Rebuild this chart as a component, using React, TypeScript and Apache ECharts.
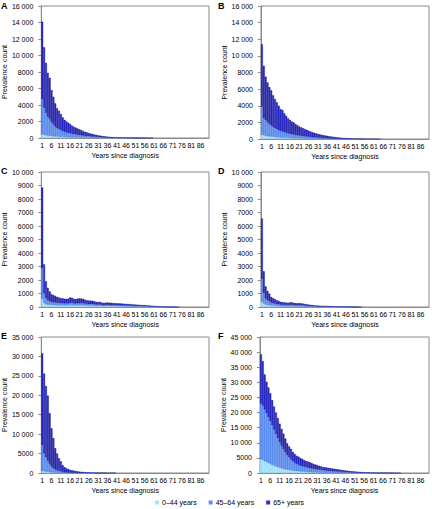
import React, { useEffect, useRef } from "react";
import * as echarts from "echarts";

const YEARS = [
  1, 2, 3, 4, 5, 6, 7, 8, 9, 10, 11, 12, 13, 14, 15, 16, 17, 18, 19, 20,
  21, 22, 23, 24, 25, 26, 27, 28, 29, 30, 31, 32, 33, 34, 35, 36, 37, 38, 39, 40,
  41, 42, 43, 44, 45, 46, 47, 48, 49, 50, 51, 52, 53, 54, 55, 56, 57, 58, 59, 60,
  61, 62, 63, 64, 65, 66, 67, 68, 69, 70, 71, 72, 73, 74, 75, 76, 77, 78, 79, 80,
  81, 82, 83, 84, 85, 86, 87, 88, 89, 90,
];

const SERIES_NAMES = ["0–44 years", "45–64 years", "65+ years"];
const PANEL_LETTERS = ["A", "B", "C", "D", "E", "F"];
const Y_MAX = [16000, 16000, 10000, 10000, 35000, 45000];
const Y_STEP = [2000, 2000, 1000, 1000, 5000, 5000];

// Panel A
const A_0_44 = [450, 380, 330, 290, 260, 220, 190, 170, 150, 140, 130, 120, 110, 100, 95, 90, 85, 80, 75, 70, 65, 60, 55, 50, 45, 42, 38, 34, 30, 27, 24, 21, 18, 16, 14, 12, 10, 9, 8, 7, 6, 5, 4, 3, 3, 2, 2, 2, 1, 1];
const A_45_64 = [4250, 3300, 2700, 2300, 2050, 1700, 1450, 1200, 1050, 950, 830, 720, 630, 570, 520, 480, 420, 380, 350, 320, 290, 260, 230, 205, 185, 165, 148, 132, 116, 105, 92, 80, 70, 62, 54, 46, 40, 34, 29, 25, 22, 19, 16, 13, 11, 9, 8, 6, 5, 4, 3, 3, 2, 2, 1, 1];
const A_65 = [9400, 7320, 6070, 5310, 4990, 3880, 3360, 2830, 2400, 2210, 1940, 1660, 1460, 1330, 1235, 1130, 995, 890, 825, 760, 695, 630, 565, 505, 450, 393, 354, 314, 274, 248, 214, 189, 162, 142, 122, 102, 90, 77, 63, 56, 48, 41, 35, 30, 26, 22, 18, 15, 13, 10, 8, 6, 5, 4, 3, 2, 2, 1, 1, 1];

// Panel B
const B_0_44 = [500, 420, 370, 330, 300, 270, 240, 215, 195, 180, 165, 150, 140, 130, 120, 110, 100, 92, 85, 78, 70, 64, 58, 52, 47, 43, 39, 35, 31, 28, 25, 22, 19, 17, 15, 13, 11, 10, 9, 8, 7, 6, 5, 4, 3, 3, 2, 2, 1, 1];
const B_45_64 = [3400, 2100, 1900, 1700, 1500, 1350, 1200, 1080, 980, 880, 800, 760, 690, 620, 560, 510, 470, 440, 400, 370, 340, 315, 290, 265, 245, 225, 205, 185, 165, 150, 138, 125, 112, 100, 88, 77, 67, 58, 50, 44, 38, 33, 28, 23, 19, 16, 13, 10, 8, 6, 5, 4, 3, 2, 2, 1];
const B_65 = [7500, 6280, 5230, 4770, 4450, 4230, 3810, 3505, 3225, 2940, 2635, 2590, 2270, 2050, 1820, 1680, 1530, 1468, 1315, 1202, 1090, 1021, 952, 883, 808, 732, 656, 600, 554, 502, 457, 413, 369, 343, 317, 290, 262, 232, 211, 188, 165, 146, 127, 113, 103, 91, 80, 68, 61, 53, 45, 38, 32, 26, 20, 16, 12, 9, 7, 5, 4, 3, 2, 1];

// Panel C
const C_0_44 = [600, 300, 200, 170, 150, 140, 135, 130, 125, 120, 118, 116, 114, 112, 115, 130, 125, 115, 112, 118, 122, 120, 116, 106, 100, 96, 94, 92, 85, 78, 74, 78, 66, 62, 66, 68, 66, 64, 62, 60, 58, 56, 54, 52, 50, 48, 46, 44, 42, 40, 38, 36, 34, 32, 30, 28, 26, 24, 22, 20, 18, 16, 14, 12, 10, 8, 6, 5, 3, 2, 1, 1];
const C_45_64 = [2300, 700, 450, 330, 270, 230, 210, 200, 185, 175, 165, 160, 155, 150, 155, 180, 170, 150, 145, 155, 160, 155, 150, 135, 125, 120, 118, 115, 105, 95, 90, 95, 80, 75, 80, 83, 80, 78, 75, 73, 70, 68, 65, 63, 60, 58, 55, 53, 50, 48, 45, 43, 40, 38, 35, 33, 30, 28, 25, 23, 20, 18, 15, 13, 10, 8, 6, 5, 3, 2, 1, 1];
const C_65 = [5950, 2160, 1250, 920, 730, 580, 535, 490, 440, 405, 377, 364, 341, 338, 350, 410, 385, 335, 323, 347, 358, 345, 334, 299, 275, 264, 258, 253, 230, 207, 196, 207, 174, 163, 174, 179, 174, 168, 163, 157, 152, 146, 141, 135, 130, 124, 119, 113, 108, 102, 97, 91, 86, 80, 75, 69, 64, 58, 53, 47, 42, 36, 31, 25, 20, 16, 13, 8, 6, 4, 3, 1, 2, 1];

// Panel D
const D_0_44 = [400, 250, 170, 140, 120, 95, 85, 75, 66, 60, 52, 50, 47, 46, 44, 48, 50, 44, 42, 40, 42, 39, 36, 32, 29, 26, 23, 20, 17, 16, 14, 13, 12, 11, 10, 9, 8, 7, 6, 6, 5, 4, 4, 3, 3, 2, 2, 1, 1];
const D_45_64 = [1700, 800, 470, 360, 300, 225, 200, 175, 150, 135, 115, 108, 102, 99, 93, 102, 105, 93, 87, 84, 87, 81, 75, 66, 60, 54, 48, 42, 36, 33, 30, 28, 27, 25, 24, 21, 19, 18, 16, 15, 13, 12, 10, 9, 7, 6, 5, 4, 3, 2, 1, 1];
const D_65 = [4450, 1590, 890, 690, 570, 420, 375, 330, 284, 255, 213, 202, 191, 185, 173, 190, 195, 173, 161, 156, 161, 150, 139, 122, 111, 100, 89, 78, 67, 61, 56, 54, 51, 49, 46, 40, 38, 35, 33, 29, 27, 24, 21, 18, 15, 12, 9, 7, 5, 4, 3, 2, 1, 1];

// Panel E
const E_0_44 = [500, 420, 360, 300, 230, 170, 130, 95, 75, 55, 45, 30, 22, 18, 15, 12, 10, 9, 8, 7, 6, 5, 4, 3, 3, 2, 2, 1, 1, 1];
const E_45_64 = [6700, 4600, 3700, 2900, 2100, 1500, 1100, 800, 600, 450, 350, 240, 180, 145, 120, 96, 84, 72, 60, 50, 42, 36, 30, 24, 20, 17, 13, 11, 8, 6, 5, 4, 2, 2, 1];
const E_65 = [23600, 20580, 18340, 16700, 13070, 9830, 7770, 5505, 4325, 3295, 2605, 1730, 1298, 1037, 865, 692, 606, 519, 432, 363, 302, 259, 216, 173, 147, 121, 95, 78, 61, 43, 35, 26, 18, 13, 9, 7, 5, 3, 2, 1];

// Panel F
const F_0_44 = [4500, 4300, 3900, 3600, 3300, 3000, 2700, 2400, 2150, 1900, 1700, 1500, 1350, 1200, 1050, 950, 850, 760, 680, 610, 550, 490, 440, 400, 360, 320, 290, 260, 235, 210, 190, 170, 150, 135, 120, 105, 95, 85, 75, 65, 58, 50, 44, 38, 33, 28, 24, 20, 17, 14, 12, 10, 8, 6, 5, 4, 3, 2, 2, 1];
const F_45_64 = [18500, 18000, 17100, 16200, 15200, 14200, 13100, 11900, 10750, 9600, 8500, 7500, 6550, 5700, 4950, 4250, 3650, 3140, 2720, 2390, 2150, 1960, 1810, 1650, 1540, 1430, 1310, 1220, 1125, 1040, 960, 890, 830, 765, 710, 655, 605, 555, 515, 475, 432, 395, 361, 327, 297, 267, 241, 215, 193, 171, 153, 135, 117, 104, 90, 76, 65, 55, 45, 37, 30, 24, 19, 15, 11, 8, 6, 4, 3, 2, 1];
const F_65 = [16300, 14700, 11600, 10400, 9800, 9200, 8300, 7700, 7100, 6700, 6100, 5600, 5100, 4500, 3800, 3600, 3500, 3100, 2900, 2700, 2700, 2550, 2450, 2250, 2100, 2050, 2000, 1820, 1640, 1550, 1450, 1340, 1220, 1100, 1070, 1040, 1000, 960, 910, 860, 810, 755, 695, 635, 570, 525, 475, 435, 390, 355, 315, 285, 255, 230, 205, 180, 162, 143, 123, 107, 90, 76, 66, 55, 44, 37, 29, 21, 15, 10, 7, 5, 3, 2, 1];

const PANEL_DATA = [
  [A_0_44, A_45_64, A_65],
  [B_0_44, B_45_64, B_65],
  [C_0_44, C_45_64, C_65],
  [D_0_44, D_45_64, D_65],
  [E_0_44, E_45_64, E_65],
  [F_0_44, F_45_64, F_65],
];

// Layout (pixels)
const GRIDS = [
  { left: 41, top: 6, width: 168, height: 132 },
  { left: 261, top: 6, width: 168, height: 133 },
  { left: 40, top: 172, width: 169, height: 135 },
  { left: 261, top: 172, width: 168, height: 135 },
  { left: 40, top: 337, width: 169, height: 136 },
  { left: 260, top: 337, width: 169, height: 136 },
];
const LETTER_POS = [
  { left: 1, top: 1 },
  { left: 218, top: 1 },
  { left: 1, top: 166 },
  { left: 218, top: 166 },
  { left: 1, top: 331 },
  { left: 218, top: 331 },
];

const FONT = 'Arial, "Liberation Sans", sans-serif';
const STYLES = [
  { color: "#a9e4f8", borderColor: "#8fd3f0", borderWidth: 0.3 },
  { color: "#5f90f2", borderColor: "#3d6ce0", borderWidth: 0.3 },
  { color: "#2e2ed0", borderColor: "#00007a", borderWidth: 0.35 },
];

function fmtY(v: number): string {
  if (v >= 10000) {
    const th = Math.floor(v / 1000);
    const rest = String(v % 1000).padStart(3, "0");
    return th + " " + rest;
  }
  return String(v);
}

export default function App() {
  const ref = useRef<HTMLDivElement>(null);
  useEffect(() => {
    if (!ref.current) return;
    const chart = echarts.init(ref.current, undefined, { renderer: "svg" });
    const grid = GRIDS.map((g) => ({
      ...g,
      show: true,
      borderColor: "#8a8a8a",
      borderWidth: 1,
      containLabel: false,
    }));
    const xAxis = GRIDS.map((_, i) => ({
      type: "category",
      gridIndex: i,
      data: YEARS.map(String),
      name: "Years since diagnosis",
      nameLocation: "middle",
      nameGap: 14,
      nameTextStyle: { fontSize: 7, fontFamily: FONT, color: "#000" },
      axisLine: { show: true, lineStyle: { color: "#8a8a8a", width: 1 } },
      axisTick: { show: false },
      axisLabel: {
        interval: 4,
        fontSize: 7,
        fontFamily: FONT,
        color: "#000",
        margin: 4,
      },
      splitLine: { show: false },
    }));
    const yAxis = GRIDS.map((_, i) => ({
      type: "value",
      gridIndex: i,
      min: 0,
      max: Y_MAX[i],
      interval: Y_STEP[i],
      name: "Prevalence count",
      nameLocation: "middle",
      nameGap: 31,
      nameRotate: 90,
      nameTextStyle: { fontSize: 7, fontFamily: FONT, color: "#000" },
      axisLine: { show: true, lineStyle: { color: "#8a8a8a", width: 1 } },
      axisTick: { show: true, length: 3, lineStyle: { color: "#8a8a8a" } },
      axisLabel: {
        fontSize: 7,
        fontFamily: FONT,
        color: "#000",
        margin: 8,
        formatter: fmtY,
      },
      splitLine: { show: false },
    }));
    const series: any[] = [];
    PANEL_DATA.forEach((panel, i) => {
      panel.forEach((arr, k) => {
        series.push({
          type: "bar",
          name: SERIES_NAMES[k],
          xAxisIndex: i,
          yAxisIndex: i,
          stack: "s" + i,
          data: arr,
          barCategoryGap: "0%",
          itemStyle: STYLES[k],
          emphasis: { disabled: true },
        });
      });
    });
    const title = PANEL_LETTERS.map((t, i) => ({
      text: t,
      left: LETTER_POS[i].left,
      top: LETTER_POS[i].top,
      padding: 0,
      textStyle: { fontSize: 9, fontWeight: "bold", fontFamily: FONT, color: "#000" },
    }));
    chart.setOption({
      animation: false,
      backgroundColor: "#fff",
      title,
      grid,
      xAxis,
      yAxis,
      series,
      legend: {
        data: SERIES_NAMES,
        left: 155,
        top: 499,
        icon: "rect",
        itemWidth: 4,
        itemHeight: 4,
        itemGap: 12,
        padding: 0,
        itemStyle: { borderWidth: 0 },
        textStyle: { fontSize: 7, fontFamily: FONT, color: "#000", padding: [0, 0, 0, -2] },
      },
    });
    return () => chart.dispose();
  }, []);
  return (
    <div
      ref={ref}
      style={{ position: "fixed", left: 0, top: 0, width: 432, height: 509 }}
    />
  );
}
